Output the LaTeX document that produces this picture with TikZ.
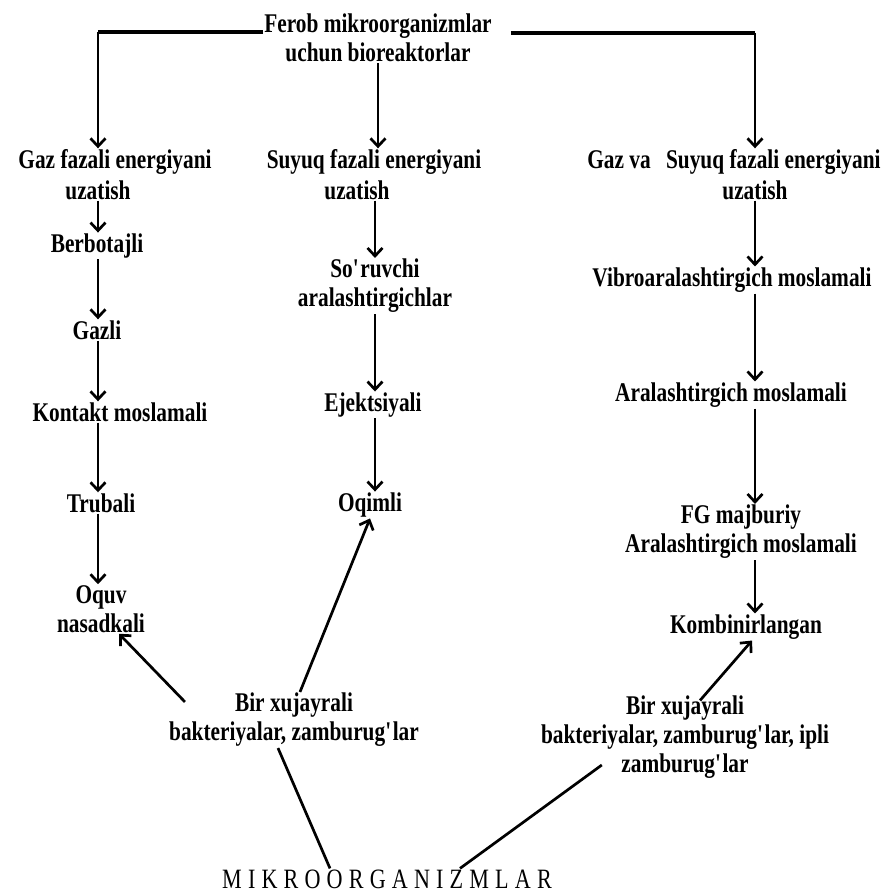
\documentclass[tikz,border=0pt]{standalone}
\usepackage{fontspec}
\setmainfont{Liberation Serif}[FakeStretch=0.79]
\usetikzlibrary{arrows.meta}

\begin{document}
\begin{tikzpicture}[x=1pt, y=-1pt,
    lbl/.style={font=\fontsize{27}{29}\selectfont\bfseries, align=center, inner sep=1pt},
    link/.style={line width=2.7pt, -{Straight Barb[length=8pt,width=15pt]}},
    plain/.style={line width=2.7pt},
    bar/.style={line width=4pt}]
  \useasboundingbox[fill=white] (0,0) rectangle (889,893);
  \node[lbl] (top) at (378,38) {Ferob mikroorganizmlar\\uchun bioreaktorlar};
  \node[lbl] (gazA) at (115,162) {Gaz fazali energiyani};
  \node[lbl] (gazB) at (98,190) {uzatish};
  \node[lbl] (suyA) at (374,162) {Suyuq fazali energiyani};
  \node[lbl] (suyB) at (357,190) {uzatish};
  \node[lbl] (gsA) at (734,162) {Gaz va\hspace{10pt} Suyuq fazali energiyani};
  \node[lbl] (gsB) at (755,190) {uzatish};
  \node[lbl] (berb) at (97,246) {Berbotajli};
  \node[lbl] (gazli) at (97,330) {Gazli};
  \node[lbl] (kont) at (120,412) {Kontakt moslamali};
  \node[lbl] (trub) at (101,503) {Trubali};
  \node[lbl] (oquv) at (101,609) {Oquv\\nasadkali};
  \node[lbl] (sor) at (375,286) {So\textquotesingle ruvchi\\aralashtirgichlar};
  \node[lbl] (ejek) at (373,405) {Ejektsiyali};
  \node[lbl] (oqim) at (370,505) {Oqimli};
  \node[lbl] (vibro) at (732,280) {Vibroaralashtirgich moslamali};
  \node[lbl] (aral) at (731,395) {Aralashtirgich moslamali};
  \node[lbl] (fg) at (741,532) {FG majburiy\\Aralashtirgich moslamali};
  \node[lbl] (komb) at (746,627) {Kombinirlangan};
  \node[lbl] (bir1) at (294,720) {Bir xujayrali\\bakteriyalar, zamburug\textquotesingle lar};
  \node[lbl] (bir2) at (685,737) {Bir xujayrali\\bakteriyalar, zamburug\textquotesingle lar, ipli\\zamburug\textquotesingle lar};
  \node[font=\fontsize{28}{30}\selectfont\addfontfeature{LetterSpace=22}, inner sep=1pt] (mikro) at (387,879) {MIKROORGANIZMLAR};

  \coordinate (tl) at ([yshift=6pt]top.west);
  \coordinate (tr) at ([xshift=18pt,yshift=5pt]top.east);
  \draw[bar] (tl) -- (tl -| gazB);
  \draw[link] (tl -| gazB) -- (gazA.north -| gazB);
  \draw[bar] (tr) -- (tr -| gsB);
  \draw[link] (tr -| gsB) -- (gsA.north -| gsB);
  \draw[link] (top.south) -- (top.south |- suyA.north);

  \foreach \a/\b in {gazB/berb, berb/gazli, gazli/kont, kont/trub, trub/oquv}
    \draw[link] (\a.south -| gazB) -- (\b.north -| gazB);
  \foreach \a/\b in {suyB/sor, sor/ejek, ejek/oqim}
    \draw[link] (\a.south -| sor) -- (\b.north -| sor);
  \foreach \a/\b in {gsB/vibro, vibro/aral, aral/fg, fg/komb}
    \draw[link] (\a.south -| gsB) -- (\b.north -| gsB);

  \draw[link] ([shift={(17,10)}]bir1.north west) -- (oquv.-54);
  \draw[link] ([xshift=6pt]bir1.north) -- (oqim.south);
  \draw[plain] ([xshift=-16pt]bir1.south) -- ([xshift=-57pt]mikro.north);
  \draw[plain] ([shift={(62,28)}]bir2.west) -- ([xshift=73pt]mikro.north);
  \draw[link] ([shift={(15,6)}]bir2.north) -- ([xshift=6pt]komb.south);
\end{tikzpicture}
\end{document}
